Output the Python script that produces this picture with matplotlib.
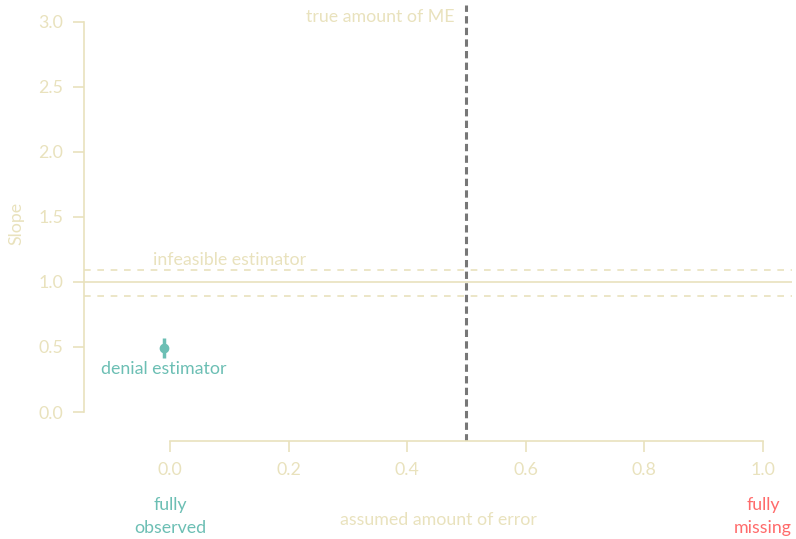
import matplotlib
matplotlib.use("Agg")
import matplotlib.pyplot as plt

plt.rcParams['font.family'] = ['Lato', 'DejaVu Sans']

# values
true_me = 0.5
infeasible_est = 1.0
infeasible_ci = [0.89, 1.095]
denial_x = [-0.01]
denial_est = [0.49]
denial_lo = [0.415]
denial_hi = [0.57]
xticks = [0.0, 0.2, 0.4, 0.6, 0.8, 1.0]
yticks = [0.0, 0.5, 1.0, 1.5, 2.0, 2.5, 3.0]

beige = '#e9e2bd'
teal = '#6cbfb4'
red = '#ff6b6b'
fs = 12.8

fig = plt.figure(figsize=(7.96, 5.39), dpi=100)
ax = fig.add_axes([84/796, 1-441/539, (792-84)/796, (441-5)/539])
ax.set_xlim(-0.145, 1.049)
ax.set_ylim(-0.223, 3.13)

ax.axhline(infeasible_est, color=beige, lw=1.2)
for v in infeasible_ci:
    ax.axhline(v, color=beige, lw=1.2, ls=(0, (4, 4)))
ax.axvline(true_me, color='#777777', lw=2.2, ls=(0, (2.4, 1.4)))

ax.errorbar(denial_x, denial_est,
            yerr=[[e - l for e, l in zip(denial_est, denial_lo)],
                  [h - e for e, h in zip(denial_est, denial_hi)]],
            fmt='o', color=teal, ms=6, elinewidth=2.5, capsize=0)

ax.text(0.1, 1.11, 'infeasible estimator', color=beige, fontsize=fs,
        ha='center', va='bottom')
ax.text(denial_x[0], 0.39, 'denial estimator', color=teal, fontsize=fs,
        ha='center', va='top')
ax.text(true_me - 0.02, 3.035, 'true amount of ME', color=beige, fontsize=fs,
        ha='right', va='center')

for s in ['top', 'right']:
    ax.spines[s].set_visible(False)
for s in ['left', 'bottom']:
    ax.spines[s].set_color(beige)
    ax.spines[s].set_linewidth(1.2)
ax.spines['left'].set_bounds(0, 3)
ax.spines['bottom'].set_bounds(0, 1)
ax.set_xticks(xticks)
ax.set_yticks(yticks)
ax.set_xticklabels([f'{t:.1f}' for t in xticks])
ax.set_yticklabels([f'{t:.1f}' for t in yticks])
ax.tick_params(colors=beige, labelcolor=beige, labelsize=fs, length=8, width=1.2)
ax.tick_params(axis='y', pad=7)
ax.tick_params(axis='x', pad=7)

ax.set_ylabel('Slope', color=beige, fontsize=fs, va='center')
ax.yaxis.set_label_coords(-0.095, 0.5)
ax.set_xlabel('assumed amount of error', color=beige, fontsize=fs, va='center')
ax.xaxis.set_label_coords(0.5, -0.181)

xt = ax.get_xaxis_transform()
for xpos, lines, col in [(0.0, ['fully', 'observed'], teal),
                         (1.0, ['fully', 'missing'], red)]:
    for ypx, line in zip([505, 528], lines):
        ax.text(xpos, (441 - ypx) / 436, line, transform=xt, color=col,
                fontsize=fs, ha='center', va='center')

fig.savefig('out.png', dpi=100)
